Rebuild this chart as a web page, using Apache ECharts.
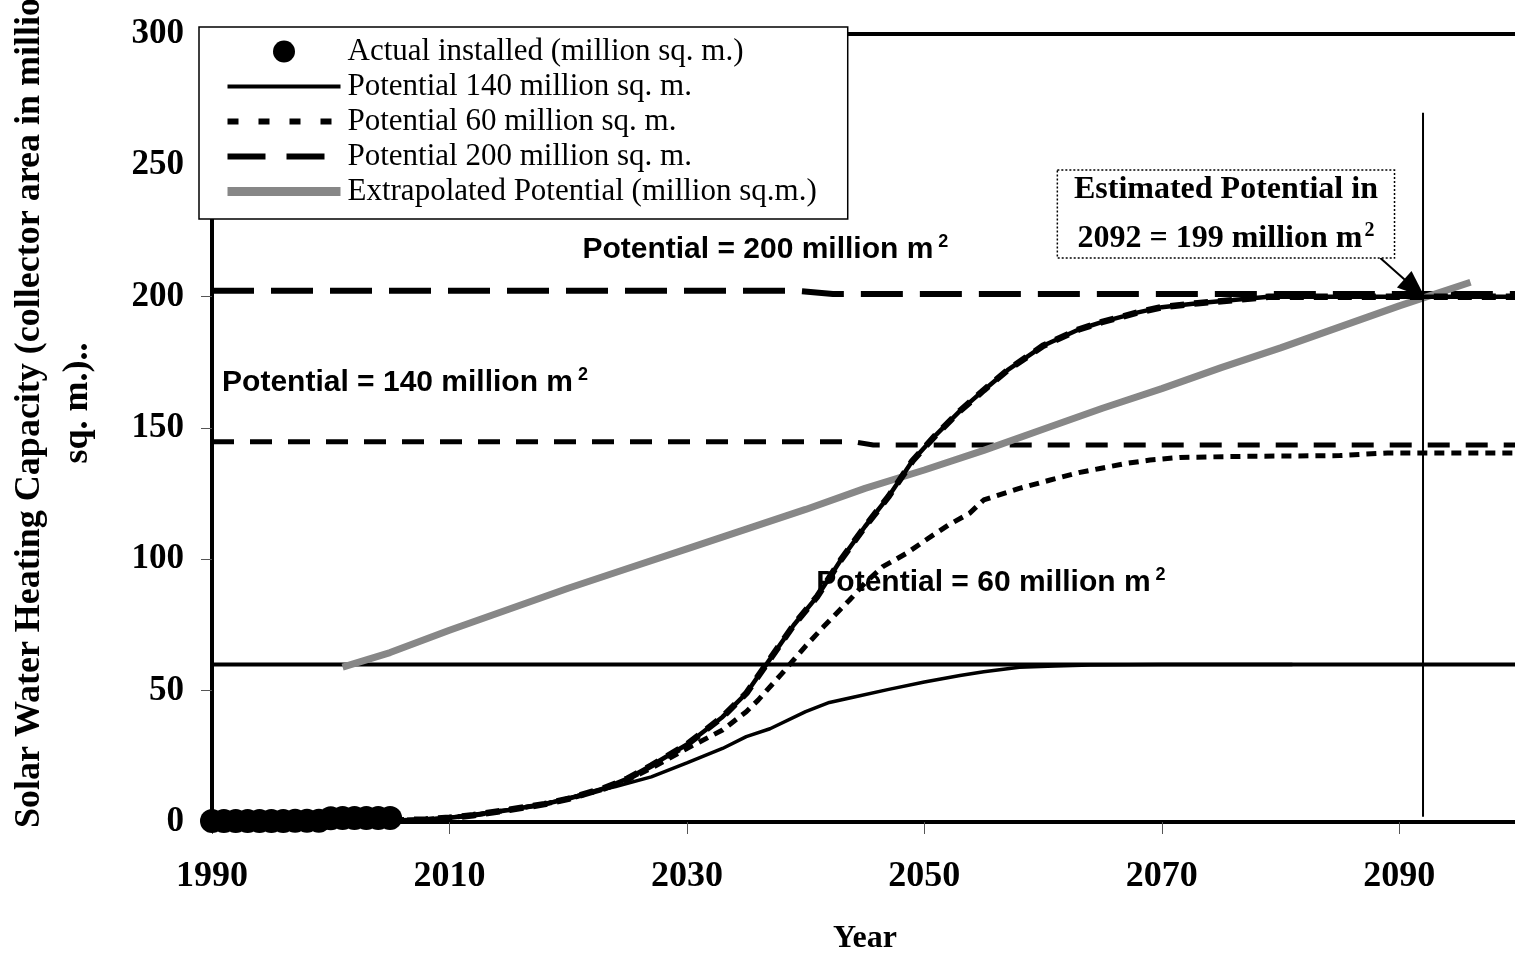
<!DOCTYPE html>
<html>
<head>
<meta charset="utf-8">
<script src="https://cdn.jsdelivr.net/npm/echarts@6/dist/echarts.min.js"></script>
<style>
  html, body { margin: 0; padding: 0; background: #fff; }
  #chart { width: 1515px; height: 953px; }
</style>
</head>
<body>
<div id="chart"></div>
<script>
// ---------------- DATA ----------------
const xTickYears = [1990, 2010, 2030, 2050, 2070, 2090];
const yTicks = [0, 50, 100, 150, 200, 250, 300];

const actualInstalled = [
  [1990, 0.4], [1991, 0.4], [1992, 0.4], [1993, 0.4], [1994, 0.4], [1995, 0.4],
  [1996, 0.4], [1997, 0.5], [1998, 0.5], [1999, 0.5], [2000, 1.4], [2001, 1.5],
  [2002, 1.5], [2003, 1.5], [2004, 1.5], [2005, 1.5]
];

// S-curve saturating near 200
const curveTo200 = [
  [2005, 0.5], [2008, 1.0], [2010, 1.6], [2012, 2.6], [2015, 4.6], [2018, 6.8],
  [2020, 8.8], [2023, 12.8], [2025, 16.5], [2027, 21.5], [2030, 29.5], [2033, 40],
  [2035, 49], [2037, 62], [2039, 75], [2041, 86], [2043, 100], [2045, 112.5],
  [2047, 124], [2049, 137.5], [2051, 147.5], [2053, 156.5], [2055, 164.4],
  [2057, 172], [2060, 181.3], [2063, 187.5], [2065, 190.4], [2068, 194],
  [2070, 196], [2073, 197.5], [2076, 198.7], [2079, 200], [2082, 200], [2100, 200]
];

// S-curve saturating near 140 (dotted)
const curveTo140 = [
  [2005, 0.5], [2008, 1.0], [2010, 1.6], [2012, 2.6], [2015, 4.6], [2018, 6.8],
  [2020, 8.8], [2023, 12.5], [2025, 16], [2027, 20.5], [2030, 28], [2033, 35],
  [2035, 42], [2036, 46.4], [2038, 56.5], [2040, 67], [2041.5, 74.3], [2043.7, 84.5],
  [2045, 91], [2046.5, 97.2], [2048.5, 102.3], [2050, 107], [2052, 113],
  [2053.8, 117.5], [2055, 122.6], [2058, 127], [2060.6, 130.2], [2063, 133],
  [2064.8, 134.6], [2067, 136.5], [2069, 137.8], [2071.5, 138.8], [2077, 139.2],
  [2085, 139.5], [2089, 140.5], [2100, 140.5]
];

// S-curve saturating near 60
const curveTo60 = [
  [2005, 0.5], [2008, 1.0], [2010, 1.8], [2012, 2.8], [2015, 4.8], [2018, 7.0],
  [2021, 10.3], [2024, 13.5], [2027, 17.2], [2030, 22.5], [2033, 28], [2035, 32.5],
  [2037, 35.5], [2040, 42], [2042, 45.5], [2044, 47.5], [2047, 50.5], [2050, 53.3],
  [2053, 55.8], [2055, 57.2], [2058, 58.9], [2061, 59.4], [2064, 59.8], [2070, 60],
  [2081, 60]
];

const extrapolated = [
  [2001, 59], [2005, 64.5], [2010, 73], [2015, 81], [2020, 89], [2025, 96.5],
  [2030, 104], [2035, 111.5], [2040, 119], [2045, 127], [2050, 134], [2055, 141.5],
  [2060, 149.5], [2065, 157.5], [2070, 165], [2075, 173], [2080, 180.5],
  [2085, 188.5], [2090, 196.5], [2096, 205.5]
];

// horizontal potential levels
const level300 = [[1990, 300], [2100, 300]];
const level200 = [[1990, 202.3], [2039, 202.3], [2042.3, 201], [2100, 201]];
const level140 = [[1990, 144.8], [2044, 144.8], [2045.7, 143.5], [2100, 143.5]];
const level60 = [[1990, 60], [2100, 60]];

// estimate marker
const estimateLine = [[2092, 2], [2092, 270]];
const estimateArrow = [[2088.4, 214.7], [2091.3, 203.1]];

// ---------------- CHART ----------------
const SERIF = 'Liberation Serif, Times New Roman, serif';
const SANS = 'Liberation Sans, Arial, sans-serif';

const chart = echarts.init(document.getElementById('chart'), null, { renderer: 'canvas' });

const names = [
  'Actual installed (million sq. m.)',
  'Potential 140 million sq. m.',
  'Potential 60 million sq. m.',
  'Potential 200 million sq. m.',
  'Extrapolated Potential (million sq.m.)'
];
const hiddenSym = { opacity: 0 };

const option = {
  animation: false,
  backgroundColor: '#fff',
  grid: { left: 212, top: 34, width: 1306, bottom: 131, containLabel: false, outerBoundsMode: 'none' },
  xAxis: {
    type: 'value', min: 1990, max: 2100, interval: 20,
    name: 'Year', nameLocation: 'middle', nameGap: 101,
    nameTextStyle: { fontFamily: SERIF, fontWeight: 'bold', fontSize: 32, color: '#000' },
    axisLine: { show: true, onZero: false, lineStyle: { color: '#000', width: 4 } },
    axisTick: { show: true, length: 12, lineStyle: { color: '#555', width: 1 } },
    axisLabel: {
      margin: 37, color: '#000', fontFamily: SERIF, fontWeight: 'bold', fontSize: 36,
      showMaxLabel: false,
      formatter: v => (xTickYears.indexOf(v) >= 0 ? String(v) : '')
    },
    splitLine: { show: false }
  },
  yAxis: {
    type: 'value', min: 0, max: 300, interval: 50,
    name: 'Solar Water Heating Capacity (collector area in million\nsq. m.)..',
    nameLocation: 'middle', nameGap: 110, nameRotate: 90,
    nameTextStyle: { fontFamily: SERIF, fontWeight: 'bold', fontSize: 36, lineHeight: 48, color: '#000', align: 'center', padding: [0, 0, 0, 50] },
    axisLine: { show: true, onZero: false, lineStyle: { color: '#000', width: 4 } },
    axisTick: { show: true, length: 11, lineStyle: { color: '#555', width: 1 } },
    axisLabel: {
      margin: 28, color: '#000', fontFamily: SERIF, fontWeight: 'bold', fontSize: 35,
      formatter: v => (yTicks.indexOf(v) >= 0 ? String(v) : '')
    },
    splitLine: { show: false }
  },
  legend: {
    orient: 'vertical', left: 199, top: 27,
    itemWidth: 113, itemHeight: 22, itemGap: 4,
    padding: [9, 31, 12, 24],
    backgroundColor: '#fff', borderColor: '#000', borderWidth: 1.5,
    selectedMode: false,
    textStyle: { fontFamily: SERIF, fontSize: 31, color: '#000', padding: [0, 0, 0, 2] },
    data: [
      { name: names[0], icon: 'circle', itemStyle: { color: '#000', opacity: 1 } },
      { name: names[1], itemStyle: hiddenSym, lineStyle: { color: '#000', width: 4, type: 'solid' } },
      { name: names[2], itemStyle: hiddenSym, lineStyle: { color: '#000', width: 6, type: [11, 20] } },
      { name: names[3], itemStyle: hiddenSym, lineStyle: { color: '#000', width: 6, type: [38, 21] } },
      { name: names[4], itemStyle: hiddenSym, lineStyle: { color: '#878787', width: 9, type: 'solid' } }
    ],
    z: 10
  },
  series: [
    { type: 'line', data: level300, symbol: 'none', silent: true,
      lineStyle: { color: '#000', width: 4 }, z: 1 },
    { name: names[3], type: 'line', data: level200, symbol: 'none', silent: true,
      itemStyle: { color: '#000' },
      lineStyle: { color: '#000', width: 6, type: [42, 17] }, z: 1 },
    { type: 'line', data: level140, symbol: 'none', silent: true,
      lineStyle: { color: '#000', width: 5, type: [22, 16] }, z: 1 },
    { type: 'line', data: level60, symbol: 'none', silent: true,
      lineStyle: { color: '#000', width: 4 }, z: 1 },
    { name: names[4], type: 'line', data: extrapolated, symbol: 'none', silent: true,
      itemStyle: { color: '#878787' },
      lineStyle: { color: '#878787', width: 7 }, z: 2 },
    { name: names[1], type: 'line', data: curveTo200, symbol: 'none', silent: true,
      itemStyle: { color: '#000' },
      lineStyle: { color: '#000', width: 4.5 }, z: 3 },
    { type: 'line', data: curveTo200, symbol: 'none', silent: true,
      lineStyle: { color: '#000', width: 6.5, type: [14, 10] }, z: 3 },
    { name: names[2], type: 'line', data: curveTo140, symbol: 'none', silent: true,
      itemStyle: { color: '#000' },
      lineStyle: { color: '#000', width: 5, type: [10, 7] }, z: 3 },
    { type: 'line', data: curveTo60, symbol: 'none', silent: true,
      lineStyle: { color: '#000', width: 3.5 }, z: 3 },
    { type: 'line', data: estimateLine, symbol: 'none', silent: true,
      lineStyle: { color: '#000', width: 2 }, z: 3,
      markLine: {
        silent: true, symbol: ['none', 'triangle'], symbolSize: [22, 28],
        label: { show: false },
        itemStyle: { color: '#000' },
        lineStyle: { color: '#000', width: 2, type: 'solid' },
        data: [[{ coord: estimateArrow[0] }, { coord: estimateArrow[1] }]]
      }
    },
    { name: names[0], type: 'scatter', data: actualInstalled, symbol: 'circle', symbolSize: 24,
      itemStyle: { color: '#000', opacity: 1 }, silent: true, z: 5 }
  ]
};

chart.setOption(option);

// ---------------- ANNOTATIONS (anchored in data coordinates) ----------------
function px(pt) { return chart.convertToPixel({ gridIndex: 0 }, pt); }

const supSans = { fontFamily: SANS, fontWeight: 'bold', fontSize: 18, padding: [0, 0, 16, 5] };
const baseSans = { fontFamily: SANS, fontWeight: 'bold', fontSize: 30 };
function sansLabel(pt, txt) {
  const p = px(pt);
  return {
    type: 'text', x: p[0], y: p[1], z: 20,
    style: {
      text: '{b|' + txt + '}{s|2}',
      rich: { b: baseSans, s: supSans },
      fill: '#000', align: 'left', verticalAlign: 'middle'
    }
  };
}

const boxTL = px([2061.2, 248.2]);
const boxBR = px([2089.6, 214.7]);
const boxCenter = px([2075.4, 231.5]);

chart.setOption({
  graphic: [
    sansLabel([2021.2, 217.7], 'Potential = 200 million m'),
    sansLabel([1990.85, 167.1], 'Potential = 140 million m'),
    sansLabel([2040.9, 91], 'Potential = 60 million m'),
    {
      type: 'rect', z: 20,
      shape: { x: boxTL[0], y: boxTL[1], width: boxBR[0] - boxTL[0], height: boxBR[1] - boxTL[1] },
      style: { fill: '#fff', stroke: '#000', lineWidth: 1.5, lineDash: [2, 2] }
    },
    {
      type: 'text', z: 21, x: boxCenter[0], y: boxCenter[1],
      style: {
        text: '{t|Estimated Potential in}\n{t|2092 = 199 million m}{s|2}',
        rich: {
          t: { fontFamily: SERIF, fontWeight: 'bold', fontSize: 32, lineHeight: 49 },
          s: { fontFamily: SERIF, fontWeight: 'bold', fontSize: 20, lineHeight: 49, padding: [0, 0, 16, 2] }
        },
        fill: '#000', align: 'center', verticalAlign: 'middle'
      }
    }
  ]
});
</script>
</body>
</html>
